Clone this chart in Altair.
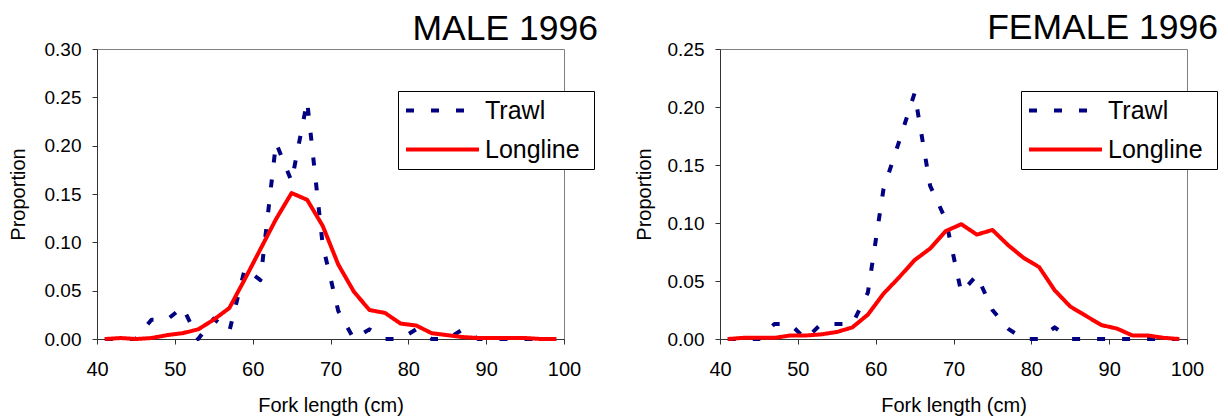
import altair as alt
import pandas as pd

# ---------------- data ----------------
lengths = [41, 43, 45, 47, 49, 51, 53, 55, 57, 59, 61, 63, 65, 67, 69,
           71, 73, 75, 77, 79, 81, 83, 85, 87, 89, 91, 93, 95, 97, 99]

male_trawl = [0.000, 0.000, 0.000, 0.020, 0.020, 0.033, 0.000, 0.021, 0.008, 0.073,
              0.061, 0.203, 0.163, 0.246, 0.097, 0.029, 0.000, 0.010, 0.000, 0.000,
              0.010, 0.000, 0.000, 0.010, 0.000, 0.000, 0.000, 0.000, 0.000, 0.000]
male_longline = [0.000, 0.001, 0.000, 0.001, 0.004, 0.006, 0.010, 0.020, 0.032, 0.062,
                 0.093, 0.124, 0.151, 0.144, 0.117, 0.077, 0.049, 0.030, 0.027, 0.016,
                 0.014, 0.006, 0.004, 0.002, 0.001, 0.001, 0.001, 0.001, 0.000, 0.000]

female_trawl = [0.000, 0.000, 0.000, 0.013, 0.013, 0.000, 0.013, 0.013, 0.013, 0.040,
                0.129, 0.170, 0.212, 0.132, 0.103, 0.040, 0.055, 0.025, 0.009, 0.000,
                0.000, 0.010, 0.000, 0.000, 0.000, 0.000, 0.000, 0.000, 0.000, 0.000]
female_longline = [0.000, 0.001, 0.001, 0.001, 0.003, 0.003, 0.004, 0.006, 0.010, 0.021,
                   0.039, 0.053, 0.068, 0.078, 0.093, 0.099, 0.090, 0.094, 0.081, 0.070,
                   0.062, 0.042, 0.028, 0.020, 0.012, 0.009, 0.003, 0.003, 0.001, 0.000]

series_names = ["Trawl", "Longline"]
series_colors = ["#000080", "#FF0000"]
series_dashes = [[8, 17], [1, 0]]

panel_titles = ["MALE 1996", "FEMALE 1996"]
x_ticks = [40, 50, 60, 70, 80, 90, 100]
male_y_ticks = [0.00, 0.05, 0.10, 0.15, 0.20, 0.25, 0.30]
female_y_ticks = [0.00, 0.05, 0.10, 0.15, 0.20, 0.25]

FONT = "Liberation Sans"
PW, PH = 467, 290


def panel(trawl, longline, title_text, ymax, yticks, title_x, title_y, ytitle_x):
    n = len(lengths)
    df = pd.DataFrame({
        "length": lengths + lengths,
        "proportion": trawl + longline,
        "gear": [series_names[0]] * n + [series_names[1]] * n,
    })
    x = alt.X("length:Q",
              scale=alt.Scale(domain=[40, 100], nice=False, zero=False),
              axis=alt.Axis(values=x_ticks, title="Fork length (cm)", labelFlush=False,
                            titleY=72, titleBaseline="alphabetic"))
    y = alt.Y("proportion:Q",
              scale=alt.Scale(domain=[0, ymax], nice=False),
              axis=alt.Axis(values=yticks, format=".2f", title="Proportion",
                            labelFlush=False,
                            titleX=ytitle_x, titleY=PH / 2, titleAngle=270,
                            titleBaseline="middle", titleAlign="center"))
    color = alt.Color("gear:N",
                      scale=alt.Scale(domain=series_names, range=series_colors),
                      legend=None)
    dash = alt.StrokeDash("gear:N",
                          scale=alt.Scale(domain=series_names, range=series_dashes),
                          legend=None)
    base = alt.Chart(df).mark_line(strokeWidth=4, strokeCap="butt", strokeJoin="round")
    trawl_layer = base.transform_filter(alt.datum.gear == "Trawl").encode(
        x=x, y=y, color=color, strokeDash=dash)
    long_layer = base.transform_filter(alt.datum.gear == "Longline").encode(
        x=x, y=y, color=color, strokeDash=dash)

    # legend (box, swatches coloured through the same scales, labels)
    leg_df = pd.DataFrame({"gear": series_names, "idx": list(range(len(series_names)))})
    leg_base = alt.Chart(leg_df).transform_calculate(rowpix="61.5 + 39 * datum.idx")
    leg_box = alt.Chart(pd.DataFrame({"k": [0]})).mark_rect(
        fill="white", stroke="black", strokeWidth=1).encode(
        x=alt.value(301.5), x2=alt.value(497.5), y=alt.value(42.5), y2=alt.value(120.5))
    leg_sw = leg_base.mark_rule(strokeWidth=4, strokeCap="butt").encode(
        x=alt.value(309), x2=alt.value(382),
        y=alt.Y("rowpix:Q", scale=None),
        color=color, strokeDash=dash)
    leg_tx = leg_base.mark_text(align="left", baseline="middle", font=FONT,
                                fontSize=25, color="black").encode(
        x=alt.value(388), y=alt.Y("rowpix:Q", scale=None), text="gear:N")

    title = alt.Chart(pd.DataFrame({"t": [title_text]})).mark_text(
        align="right", baseline="alphabetic", font=FONT, fontSize=35.5,
        color="black").encode(x=alt.value(title_x), y=alt.value(title_y), text="t:N")

    return alt.layer(trawl_layer, long_layer, leg_box, leg_sw, leg_tx, title).properties(
        width=PW, height=PH)


left = panel(male_trawl, male_longline, panel_titles[0], 0.30, male_y_ticks, 501, -9, -79)
right = panel(female_trawl, female_longline, panel_titles[1], 0.25, female_y_ticks, 498, -10, -76)

chart = (
    alt.hconcat(left, right, spacing=156, bounds="flush")
    .resolve_scale(color="independent", strokeDash="independent",
                   x="independent", y="independent")
    .properties(padding={"left": 7, "top": 10, "right": 0, "bottom": 0},
                background="white")
    .configure_view(stroke="#808080", strokeWidth=1)
    .configure_axis(
        grid=False,
        domainColor="#333333",
        domainWidth=1,
        tickColor="#333333",
        tickSize=5,
        tickWidth=1,
        labelFont=FONT,
        labelColor="black",
        titleFont=FONT,
        titleColor="black",
        titleFontWeight="normal",
        titleFontSize=20,
    )
    .configure_axisX(labelFontSize=20, labelPadding=15)
    .configure_axisY(labelFontSize=19, labelPadding=11)
)

chart.save("out.html", embed_options={"renderer": "svg", "actions": False})
